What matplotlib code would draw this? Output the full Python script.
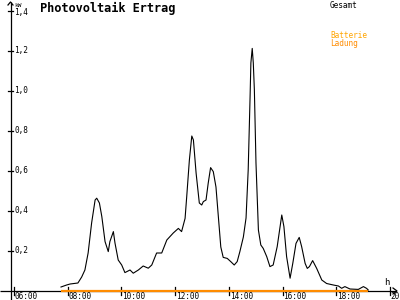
import matplotlib
matplotlib.use("Agg")
import matplotlib.pyplot as plt

# ---- data (hours of day, kW) ----
times = [7.75, 7.96, 8.09, 8.38, 8.52, 8.64, 8.76, 8.89, 9.02, 9.08, 9.18, 9.27, 9.39, 9.51,
         9.57, 9.70, 9.76, 9.88, 10.01, 10.13, 10.32, 10.44, 10.63, 10.81, 11.00, 11.13,
         11.31, 11.50, 11.69, 11.93, 12.12, 12.24, 12.37, 12.43, 12.53, 12.62, 12.68, 12.78,
         12.90, 12.99, 13.05, 13.15, 13.23, 13.32, 13.42, 13.52, 13.61, 13.70, 13.79, 13.94,
         14.07, 14.20, 14.31, 14.41, 14.54, 14.64, 14.72, 14.79, 14.82, 14.87, 14.91, 14.95,
         15.01, 15.10, 15.19, 15.28, 15.41, 15.53, 15.65, 15.80, 15.97, 16.05, 16.15, 16.28,
         16.38, 16.50, 16.62, 16.71, 16.84, 16.92, 17.00, 17.12, 17.27, 17.46, 17.64, 17.89,
         18.08, 18.20, 18.32, 18.51, 18.82, 19.01, 19.13, 19.19]
gesamt = [0.02, 0.03, 0.035, 0.04, 0.07, 0.105, 0.19, 0.34, 0.455, 0.464, 0.44, 0.372, 0.247, 0.197,
          0.247, 0.297, 0.24, 0.155, 0.13, 0.092, 0.105, 0.089, 0.105, 0.125, 0.114, 0.13,
          0.19, 0.19, 0.255, 0.29, 0.313, 0.297, 0.363, 0.47, 0.655, 0.775, 0.755, 0.59,
          0.44, 0.43, 0.447, 0.455, 0.538, 0.617, 0.597, 0.52, 0.37, 0.22, 0.168, 0.163,
          0.147, 0.13, 0.147, 0.197, 0.27, 0.365, 0.605, 0.97, 1.14, 1.213, 1.14, 1.005,
          0.64, 0.305, 0.23, 0.213, 0.172, 0.122, 0.13, 0.222, 0.38, 0.322, 0.172, 0.064,
          0.138, 0.238, 0.268, 0.222, 0.138, 0.113, 0.122, 0.152, 0.113, 0.055, 0.0375, 0.03,
          0.025, 0.0135, 0.022, 0.01, 0.008, 0.022, 0.013, 0.005]
batterie_times = [7.75, 19.19]
batterie = [0.0, 0.0]

x_ticks = [6, 8, 10, 12, 14, 16, 18, 20]
x_labels = ["06:00", "08:00", "10:00", "12:00", "14:00", "16:00", "18:00", "20:00"]
y_ticks = [0.2, 0.4, 0.6, 0.8, 1.0, 1.2, 1.4]
y_labels = ["0,2", "0,4", "0,6", "0,8", "1,0", "1,2", "1,4"]

title = "Photovoltaik Ertrag"

# ---- figure ----
W, H = 400, 300
fig = plt.figure(figsize=(4, 3), dpi=100)
ax = fig.add_axes([0, 0, 1, 1])
ax.set_facecolor("white")

# pixel mapping: t=6 -> x=14, 26.857 px/hour ; v=0 -> y=291, 200 px/kW
PXH = 26.857
PXV = 200.0
ax.set_xlim(6 - 14 / PXH, 6 + (W - 14) / PXH)
ax.set_ylim(-(H - 291) / PXV, 291 / PXV)

def tx(px):
    return 6 + (px - 14) / PXH

def vy(py):
    return (291 - py) / PXV

FONT = "DejaVu Sans Mono"

# axes lines
ax.axis("off")
ax.plot([tx(0), tx(396)], [0, 0], color="black", lw=0.9, solid_capstyle="butt")
ax.plot([tx(10.5), tx(10.5)], [vy(300), vy(2)], color="black", lw=0.9, solid_capstyle="butt")
# arrows
ax.plot([tx(393), tx(397), tx(393)], [vy(288), vy(291), vy(294)], color="black", lw=0.9)
ax.plot([tx(8), tx(10.5), tx(13)], [vy(5), vy(2), vy(5)], color="black", lw=0.9)

# ticks
for t in x_ticks:
    ax.plot([t, t], [vy(287), vy(295)], color="black", lw=0.9)
for v in y_ticks:
    ax.plot([tx(8), tx(13)], [v, v], color="black", lw=0.9)

# series
ax.plot(batterie_times, batterie, color="#ff8c00", lw=1.6, solid_capstyle="butt", zorder=3)
ax.plot(times, gesamt, color="black", lw=0.8, zorder=4)

# tick labels
for t, lab in zip(x_ticks, x_labels):
    px = 14 + (t - 6) * PXH
    fig.text(px / W + 0.002, 1 - 292 / H, lab, family=FONT, fontsize=5.6,
             ha="left", va="top", color="black")
for v, lab in zip(y_ticks, y_labels):
    py = 291 - v * PXV
    if v == 1.4:
        py += 1.5
    fig.text(14.5 / W, 1 - py / H, lab, family=FONT, fontsize=5.6,
             ha="left", va="center", color="black")

# unit labels
fig.text(14 / W, 1 - 7 / H, "kW", family=FONT, fontsize=4.4, ha="left", va="baseline")
fig.text(384 / W, 1 - 285 / H, "h", family=FONT, fontsize=6.5, ha="left", va="baseline")

# title
fig.text(40 / W, 1 - 12 / H, title, family=FONT, fontsize=8.6, fontweight="bold",
         ha="left", va="baseline")

# legend texts
fig.text(330 / W, 1 - 8 / H, "Gesamt", family=FONT, fontsize=5.6, ha="left",
         va="baseline", color="black")
fig.text(330 / W, 1 - 38.5 / H, "Batterie", family=FONT, fontsize=5.6, ha="left",
         va="baseline", color="#ffa500")
fig.text(330 / W, 1 - 46 / H, "Ladung", family=FONT, fontsize=5.6, ha="left",
         va="baseline", color="#ff8c00")

fig.savefig("out.png", dpi=100, facecolor="white")
